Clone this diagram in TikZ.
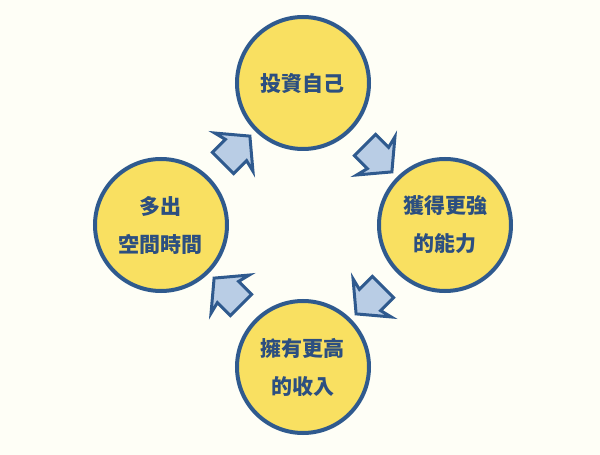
\documentclass[tikz,border=0pt]{standalone}
\usepackage{fontspec}
\usepackage{xcolor}
\usepackage{tikz}
\usetikzlibrary{arrows.meta,positioning,shapes.arrows}
\newfontfamily\cjk{Noto Sans CJK TC}
\definecolor{bgcream}{HTML}{FEFEF6}
\definecolor{sunyellow}{HTML}{F9E061}
\definecolor{deepblue}{HTML}{2F5A8E}
\definecolor{paleblue}{HTML}{B9CDE5}
\definecolor{textblue}{HTML}{2C4F80}
\tikzset{
  stage/.style={circle,draw=deepblue,line width=4pt,fill=sunyellow,minimum size=132pt,inner sep=0pt,align=center,text=textblue,font=\cjk\bfseries\fontsize{21}{38}\selectfont},
  cycarrow/.style={single arrow,draw=deepblue,line width=3pt,fill=paleblue,minimum height=38pt,minimum width=51pt,single arrow head extend=12pt,single arrow tip angle=100,single arrow head indent=3pt,inner xsep=0pt,inner ysep=13.5pt,sloped,allow upside down}
}

\begin{document}
\begin{tikzpicture}[on grid,node distance=142pt and 142pt]
  \fill[bgcream] (-303pt,-230pt) rectangle (297pt,225pt);
  \useasboundingbox (-303pt,-230pt) rectangle (297pt,225pt);
  \node[stage] (invest) at (0,142pt) {投資自己};
  \node[stage, below right=of invest] (ability) {獲得更強\\的能力};
  \node[stage, below left=of ability] (income) {擁有更高\\的收入};
  \node[stage, above left=of income] (spare) {多出\\空間時間};
  \path (spare) -- node[cycarrow] (up) {} (invest);
  \path (invest) -- node[cycarrow] (right) {} (ability);
  \path (ability) -- node[cycarrow] (down) {} (income);
  \path (income) -- node[cycarrow] (left) {} (spare);
\end{tikzpicture}
\end{document}
